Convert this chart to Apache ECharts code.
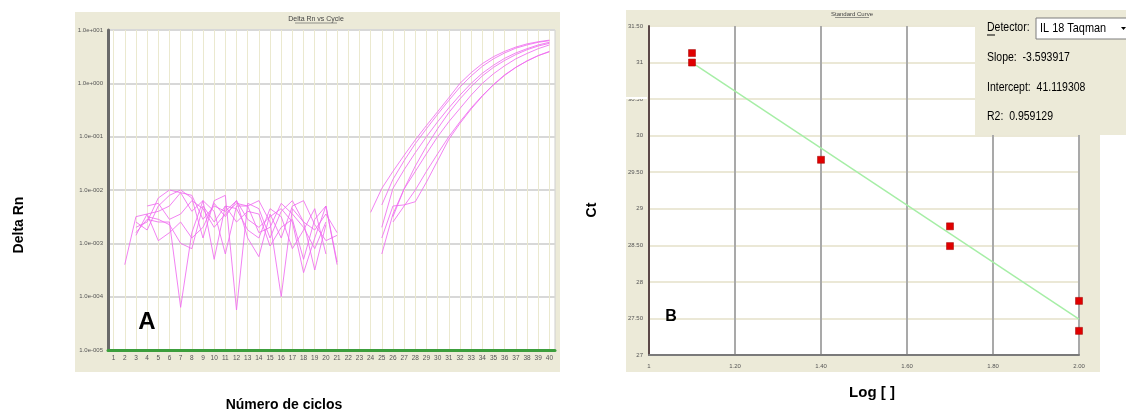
<!DOCTYPE html>
<html><head><meta charset="utf-8">
<script src="https://cdn.jsdelivr.net/npm/echarts@6/dist/echarts.min.js"></script>
<style>html,body{margin:0;padding:0;background:#fff}#c{width:1126px;height:412px}</style>
</head><body><div id="c"></div>
<script>
// ---- Chart A: Delta Rn vs Cycle (values are log10 of Delta Rn) ----
const cycles = ['1','2','3','4','5','6','7','8','9','10','11','12','13','14','15','16','17','18','19','20',
  '21','22','23','24','25','26','27','28','29','30','31','32','33','34','35','36','37','38','39','40'];
const deltaRnTickLabels = ['1.0e-005','1.0e-004','1.0e-003','1.0e-002','1.0e-001','1.0e+000','1.0e+001'];

const well1 = [null,-3.40,-2.50,-2.45,-2.40,-2.30,-2.05,-2.10,-2.55,-2.30,-2.40,-2.20,-2.55,-2.70,-2.50,-2.35,-2.60,-3.55,-2.90,-2.30,-3.35,null,null,
  -2.42,-1.97,-1.65,-1.35,-1.06,-0.79,-0.53,-0.27,0.00,0.20,0.37,0.50,0.60,0.68,0.74,0.78,0.81];
const well2 = [null,null,-2.60,-2.75,-2.30,-2.10,-2.00,-2.15,-2.90,-2.20,-2.10,-4.25,-2.25,-2.35,-2.90,-2.40,-2.20,-2.60,-2.75,-2.45,-2.80,null,null,
  null,-2.28,-1.80,-1.45,-1.13,-0.85,-0.58,-0.32,-0.07,0.14,0.32,0.46,0.57,0.66,0.72,0.77,0.80];
const well3 = [null,null,-2.80,-2.55,-2.60,-2.60,-4.20,-2.80,-2.20,-2.40,-3.20,-2.30,-2.30,-2.20,-2.60,-4.00,-2.35,-2.60,-3.50,-2.65,null,null,null,
  null,-2.70,-1.97,-1.62,-1.30,-1.00,-0.72,-0.46,-0.22,0.00,0.19,0.34,0.47,0.57,0.65,0.72,0.77];
const well4 = [null,null,-2.70,-2.60,-2.15,-2.00,-2.05,-2.40,-2.20,-3.30,-2.30,-2.35,-2.75,-2.90,-2.35,-2.50,-3.10,-2.75,-2.35,-3.20,null,null,null,
  null,-3.20,-2.45,-1.98,-1.55,-1.18,-0.85,-0.55,-0.29,-0.06,0.14,0.30,0.43,0.54,0.63,0.70,0.75];
const well5 = [null,null,-2.85,-2.45,-2.95,-2.80,-2.60,-2.90,-2.70,-2.25,-2.50,-2.20,-2.90,-3.25,-2.45,-2.90,-2.30,-2.20,-2.65,-2.95,-2.85,null,null,
  null,null,-2.50,-1.98,-1.65,-1.32,-1.00,-0.72,-0.47,-0.22,0.00,0.18,0.33,0.46,0.56,0.65,0.72];
const well6 = [null,null,null,-2.50,-2.55,-2.65,-3.00,-3.10,-2.30,-2.60,-2.30,-2.60,-2.40,-2.45,-3.05,-2.70,-2.55,-3.30,-2.55,-2.30,-3.40,null,null,
  null,-2.90,-2.30,-2.28,-2.22,-1.85,-1.45,-1.05,-0.75,-0.48,-0.24,-0.02,0.16,0.30,0.42,0.52,0.59];
const well7 = [null,null,null,-2.30,-2.25,-2.55,-2.45,-2.20,-2.35,-2.70,-2.45,-2.25,-2.30,-2.80,-2.70,-2.25,-2.45,-2.70,-3.10,-2.60,null,null,null,
  null,null,-2.60,-2.30,-2.00,-1.65,-1.32,-1.00,-0.72,-0.46,-0.23,-0.03,0.15,0.30,0.42,0.52,0.60];
const wells = [well1, well2, well3, well4, well5, well6, well7];

// ---- Chart B: Standard Curve ----
const logQty = [1.1, 1.1, 1.4, 1.7, 1.7, 2.0, 2.0];
const ctValues = [31.13, 31.0, 29.67, 28.76, 28.49, 27.74, 27.33];
const fitLogQty = [1.1, 2.0];
const fitCt = [31.0, 27.49];
const logTickLabels = ['1','1.20','1.40','1.60','1.80','2.00'];
const ctTickLabels = ['27','27.50','28','28.50','29','29.50','30','30.50','31','31.50'];
const detectorName = 'IL 18 Taqman';
const slopeText = '-3.593917';
const interceptText = '41.119308';
const r2Text = '0.959129';

const FONT = 'Liberation Sans, Arial, sans-serif';
const BEIGE = '#ecead8';
const NARROW = 0.84;
const chart = echarts.init(document.getElementById('c'), null, {renderer: 'canvas'});

const wellSeries = wells.map((w, i) => ({
  type: 'line', name: 'well' + (i + 1), xAxisIndex: 0, yAxisIndex: 0,
  data: w, symbol: 'none', connectNulls: false, silent: true,
  lineStyle: {color: '#f06cf0', width: 1, opacity: 0.85}
}));

const option = {
  animation: false,
  grid: [
    {left: 108, top: 30, width: 447, height: 320, show: true, backgroundColor: '#fff', borderColor: '#cfcfcf', borderWidth: 1},
    {left: 649, top: 26, width: 430, height: 329, show: true, backgroundColor: '#fff', borderWidth: 0}
  ],
  xAxis: [
    {gridIndex: 0, type: 'category', data: cycles, boundaryGap: true,
      axisLine: {onZero: false, lineStyle: {color: '#3c9e3c', width: 3}},
      axisTick: {show: false, alignWithLabel: true},
      axisLabel: {interval: 0, fontSize: 6.5, color: '#555', margin: 5, fontFamily: FONT},
      splitLine: {show: true, interval: 0, alignWithLabel: true, lineStyle: {color: '#ebe9cf', width: 1}}},
    {gridIndex: 1, type: 'value', min: 1, max: 2, interval: 0.2,
      axisLine: {onZero: false, lineStyle: {color: '#7a7a7a', width: 2}},
      axisTick: {show: false},
      axisLabel: {fontSize: 6, color: '#555', margin: 8, fontFamily: FONT,
        formatter: v => logTickLabels[Math.round((v - 1) / 0.2)]},
      splitLine: {show: true, lineStyle: {color: '#a9a9a9', width: 2}}}
  ],
  yAxis: [
    {gridIndex: 0, type: 'value', min: -5, max: 1, interval: 1,
      axisLine: {show: true, onZero: false, lineStyle: {color: '#6a6a6a', width: 3}},
      axisTick: {show: false},
      axisLabel: {fontSize: 6, color: '#555', margin: 5, fontFamily: FONT,
        formatter: v => deltaRnTickLabels[Math.round(v + 5)]},
      splitLine: {show: true, lineStyle: {color: '#d8d8d8', width: 2}}},
    {gridIndex: 1, type: 'value', min: 27, max: 31.5, interval: 0.5,
      axisLine: {show: true, onZero: false, lineStyle: {color: '#5b4848', width: 2}},
      axisTick: {show: false},
      axisLabel: {fontSize: 6, color: '#555', margin: 6, fontFamily: FONT,
        formatter: v => ctTickLabels[Math.round((v - 27) / 0.5)]},
      splitLine: {show: true, lineStyle: {color: '#ebe8d6', width: 2}}}
  ],
  series: wellSeries.concat([
    {type: 'line', xAxisIndex: 1, yAxisIndex: 1, symbol: 'none', silent: true,
      data: fitLogQty.map((x, i) => [x, fitCt[i]]),
      lineStyle: {color: '#a6eea6', width: 1.5}, z: 2},
    {type: 'scatter', xAxisIndex: 1, yAxisIndex: 1, symbol: 'rect', symbolSize: 7, silent: true,
      data: logQty.map((x, i) => [x, ctValues[i]]),
      itemStyle: {color: '#e00000', borderColor: '#a00000', borderWidth: 0.5, opacity: 1}, z: 3}
  ]),
  graphic: [
    {type: 'rect', z: -10, shape: {x: 75, y: 12, width: 485, height: 360}, style: {fill: BEIGE}},
    {type: 'rect', z: -10, shape: {x: 626, y: 10, width: 474, height: 362}, style: {fill: BEIGE}},
    {type: 'rect', z: 50, shape: {x: 626, y: 97, width: 21, height: 2}, style: {fill: '#fff'}},
    // panel titles
    {type: 'text', z: 50, x: 316, y: 19, style: {text: 'Delta Rn vs Cycle', font: '7px ' + FONT, fill: '#444', textAlign: 'center', textVerticalAlign: 'middle'}},
    {type: 'line', z: 50, shape: {x1: 295, y1: 23, x2: 337, y2: 23}, style: {stroke: '#555', lineWidth: 0.6}},
    {type: 'text', z: 50, x: 852, y: 14, style: {text: 'Standard Curve', font: '6px ' + FONT, fill: '#444', textAlign: 'center', textVerticalAlign: 'middle'}},
    {type: 'line', z: 50, shape: {x1: 835, y1: 17.5, x2: 869, y2: 17.5}, style: {stroke: '#555', lineWidth: 0.6}},
    // outer labels
    {type: 'text', z: 50, x: 19, y: 225, rotation: Math.PI / 2, style: {text: 'Delta Rn', font: 'bold 14px ' + FONT, fill: '#000', textAlign: 'center', textVerticalAlign: 'middle'}},
    {type: 'text', z: 50, x: 284, y: 405, style: {text: 'Número de ciclos', font: 'bold 14px ' + FONT, fill: '#000', textAlign: 'center', textVerticalAlign: 'middle'}},
    {type: 'text', z: 50, x: 592, y: 210, rotation: Math.PI / 2, style: {text: 'Ct', font: 'bold 14px ' + FONT, fill: '#000', textAlign: 'center', textVerticalAlign: 'middle'}},
    {type: 'text', z: 50, x: 872, y: 393, style: {text: 'Log [ ]', font: 'bold 15px ' + FONT, fill: '#000', textAlign: 'center', textVerticalAlign: 'middle'}},
    {type: 'text', z: 50, x: 147, y: 322, style: {text: 'A', font: 'bold 24px ' + FONT, fill: '#000', textAlign: 'center', textVerticalAlign: 'middle'}},
    {type: 'text', z: 50, x: 671, y: 317, style: {text: 'B', font: 'bold 16px ' + FONT, fill: '#000', textAlign: 'center', textVerticalAlign: 'middle'}},
    // detector box
    {type: 'rect', z: 100, shape: {x: 975, y: 10, width: 151, height: 125}, style: {fill: BEIGE}},
    {type: 'text', z: 101, x: 987, y: 28, scaleX: NARROW, style: {text: 'Detector:', font: '12.5px ' + FONT, fill: '#000', textVerticalAlign: 'middle'}},
    {type: 'line', z: 101, shape: {x1: 987, y1: 35, x2: 995, y2: 35}, style: {stroke: '#000', lineWidth: 1}},
    {type: 'rect', z: 101, shape: {x: 1036, y: 18, width: 95, height: 21}, style: {fill: '#fff', stroke: '#7d7d7d', lineWidth: 1}},
    {type: 'text', z: 102, x: 1040, y: 28.5, scaleX: NARROW, style: {text: detectorName, font: '13px ' + FONT, fill: '#000', textVerticalAlign: 'middle'}},
    {type: 'polygon', z: 102, shape: {points: [[1121, 27], [1126, 27], [1123.5, 30]]}, style: {fill: '#000'}},
    {type: 'text', z: 101, x: 987, y: 58, scaleX: NARROW, style: {text: 'Slope:  ' + slopeText, font: '12.5px ' + FONT, fill: '#000', textVerticalAlign: 'middle'}},
    {type: 'text', z: 101, x: 987, y: 88, scaleX: NARROW, style: {text: 'Intercept:  ' + interceptText, font: '12.5px ' + FONT, fill: '#000', textVerticalAlign: 'middle'}},
    {type: 'text', z: 101, x: 987, y: 117, scaleX: NARROW, style: {text: 'R2:  ' + r2Text, font: '12.5px ' + FONT, fill: '#000', textVerticalAlign: 'middle'}}
  ]
};
chart.setOption(option);
</script>
</body></html>
